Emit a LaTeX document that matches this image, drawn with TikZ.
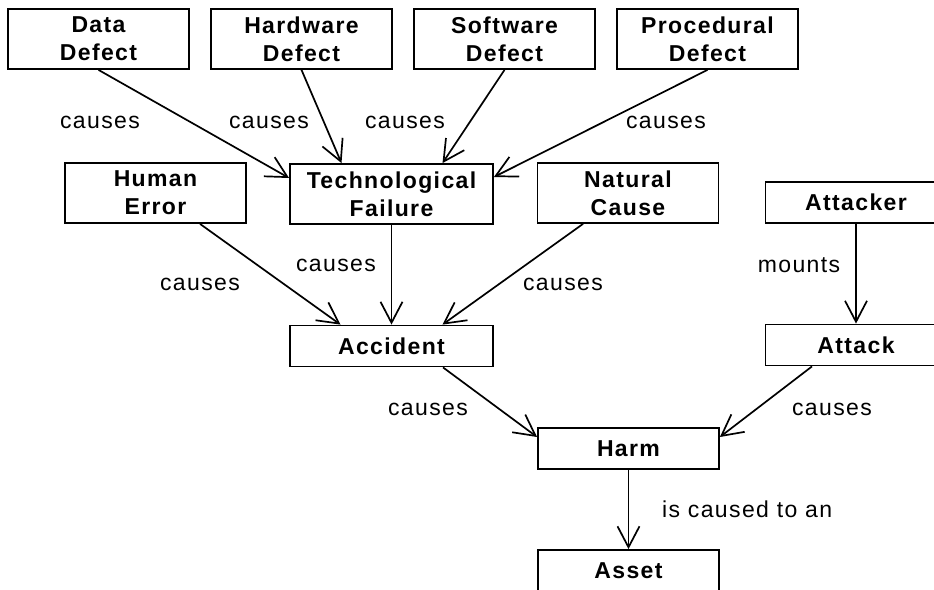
\documentclass[tikz,border=0pt]{standalone}
\usepackage{fontspec}
\setmainfont{Liberation Sans}[LetterSpace=6]
\usetikzlibrary{arrows.meta}
\begin{document}
\begin{tikzpicture}[x=1pt,y=-1pt,
  box/.style={draw,line width=1.8pt,minimum width=181pt,minimum height=60pt,
    inner sep=0pt,align=center,font=\fontsize{23}{28}\selectfont\bfseries},
  lowbox/.style={box,minimum height=41pt},
  lbl/.style={anchor=base,inner sep=0pt,font=\fontsize{23}{28}\selectfont},
  rel/.style={line width=1.7pt,-{Straight Barb[length=21pt,width=22pt,line width=1.7pt]}}]
\clip (0,0) rectangle (934,589);

% causes of technological failure
\node[box] (data) at (98.5,39) {Data\\Defect};
\node[box] (hw)   at (301.5,39) {Hardware\\Defect};
\node[box] (sw)   at (504.5,39) {Software\\Defect};
\node[box] (proc) at (707.5,39) {Procedural\\Defect};

% causes of accidents
\node[box] (human) at (155.5,193) {Human\\Error};
\node[box,minimum width=203pt] (tech) at (391.5,194) {Technological\\Failure};
\node[box] (nature) at (628,193) {Natural\\Cause};
\node[lowbox] (attacker) at (856,202.5) {Attacker};

% events and their consequences
\node[lowbox,minimum width=203pt] (accident) at (391.5,346) {Accident};
\node[lowbox] (attack) at (856,345) {Attack};
\node[lowbox] (harm) at (628.5,448.5) {Harm};
\node[lowbox] (asset) at (628.5,570.5) {Asset};

% relations
\draw[rel] (data.south) -- ([yshift=16pt]tech.west);
\draw[rel] (hw.south) -- ([xshift=-50pt]tech.north);
\draw[rel] (sw.south) -- ([xshift=51pt]tech.north);
\draw[rel] (proc.south) -- ([yshift=17pt]tech.east);
\draw[rel] ([xshift=44.5pt]human.south) -- ([xshift=-51pt]accident.north);
\draw[rel] (tech.south) -- (accident.north);
\draw[rel] ([xshift=-45pt]nature.south) -- ([xshift=51pt]accident.north);
\draw[rel] (attacker.south) -- (attack.north);
\draw[rel] ([xshift=51.5pt]accident.south) -- ([yshift=11.5pt]harm.west);
\draw[rel] ([xshift=-44pt]attack.south) -- ([yshift=11.5pt]harm.east);
\draw[rel] (harm.south) -- (asset.north);

% relation labels
\node[lbl] (l1) at (100,128) {causes};
\node[lbl] (l2) at (269,128) {causes};
\node[lbl] (l3) at (405,128) {causes};
\node[lbl] (l4) at (666,128) {causes};
\node[lbl] (l5) at (200,290) {causes};
\node[lbl] (l6) at (336,271) {causes};
\node[lbl] (l7) at (563,290) {causes};
\node[lbl] (l8) at (799,272) {mounts};
\node[lbl] (l9) at (428,415) {causes};
\node[lbl] (l10) at (832,415) {causes};
\node[lbl,anchor=base west] (l11) at (662,517) {is caused to an};
\end{tikzpicture}
\end{document}
